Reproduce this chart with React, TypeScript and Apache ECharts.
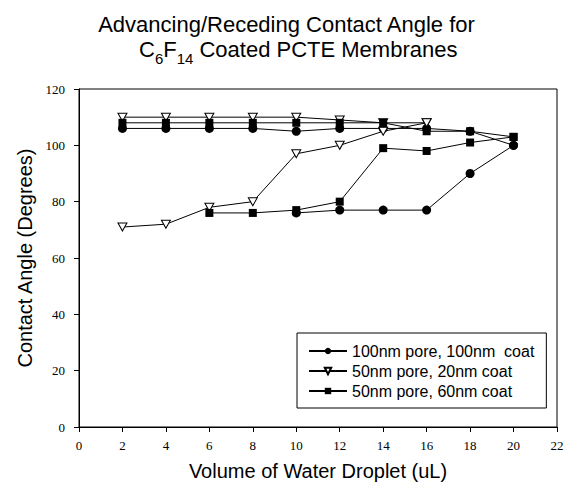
import React, { useEffect, useRef } from "react";
import * as echarts from "echarts";

// ---- Data ----
const xTicks = [0, 2, 4, 6, 8, 10, 12, 14, 16, 18, 20, 22];
const seriesNames = [
  "100nm pore, 100nm  coat",
  "50nm pore, 20nm coat",
  "50nm pore, 60nm coat",
];

// 100nm pore, 100nm coat
const circleAdvVolume = [2, 4, 6, 8, 10, 12, 14, 16, 18, 20];
const circleAdvAngle = [106, 106, 106, 106, 105, 106, 106, 106, 105, 100];
const circleRecVolume = [10, 12, 14, 16, 18, 20];
const circleRecAngle = [76, 77, 77, 77, 90, 100];

// 50nm pore, 20nm coat
const triAdvVolume = [2, 4, 6, 8, 10, 12, 14, 16];
const triAdvAngle = [110, 110, 110, 110, 110, 109, 108, 108];
const triRecVolume = [2, 4, 6, 8, 10, 12, 14, 16];
const triRecAngle = [71, 72, 78, 80, 97, 100, 105, 108];

// 50nm pore, 60nm coat
const sqAdvVolume = [2, 4, 6, 8, 10, 12, 14, 16, 18, 20];
const sqAdvAngle = [108, 108, 108, 108, 108, 108, 108, 105, 105, 103];
const sqRecVolume = [6, 8, 10, 12, 14, 16, 18, 20];
const sqRecAngle = [76, 76, 77, 80, 99, 98, 101, 103];

const pairs = (xs: number[], ys: number[]) => xs.map((x, i) => [x, ys[i]]);

const SANS = "'Liberation Sans', Arial, sans-serif";
const SERIF = "'Liberation Serif', 'Times New Roman', serif";

export default function App() {
  const ref = useRef<HTMLDivElement>(null);

  useEffect(() => {
    if (!ref.current) return;
    const chart = echarts.init(ref.current, null, { renderer: "svg" });

    const lineBase = {
      type: "line",
      lineStyle: { color: "#000", width: 1 },
      emphasis: { disabled: true },
      z: 2,
    };
    const circle = {
      ...lineBase,
      name: seriesNames[0],
      symbol: "circle",
      symbolSize: 9,
      itemStyle: { color: "#000" },
    };
    const tri = {
      ...lineBase,
      name: seriesNames[1],
      symbol: "triangle",
      symbolRotate: 180,
      symbolSize: [9, 8],
      itemStyle: { color: "#fff", borderColor: "#000", borderWidth: 1 },
    };
    const sq = {
      ...lineBase,
      name: seriesNames[2],
      symbol: "rect",
      symbolSize: 8,
      itemStyle: { color: "#000" },
    };

    chart.setOption({
      animation: false,
      backgroundColor: "#fff",
      title: [
        {
          text: "Advancing/Receding Contact Angle for",
          left: "center",
          top: 8,
          textStyle: {
            fontFamily: SANS,
            fontSize: 22,
            fontWeight: "normal",
            color: "#000",
          },
        },
        {
          text: "{n|C}{s|6}{n|F}{s|14}{n| Coated PCTE Membranes}",
          left: 134,
          top: 33,
          textStyle: {
            fontWeight: "normal",
            fontFamily: SANS,
            rich: {
              n: {
                fontFamily: SANS,
                fontSize: 22,
                fontWeight: "normal",
                color: "#000",
                verticalAlign: "top",
              },
              s: {
                fontFamily: SANS,
                fontSize: 15,
                fontWeight: "normal",
                color: "#000",
                verticalAlign: "top",
                padding: [13, 0, 0, 0],
              },
            },
          },
        },
      ],
      legend: {
        left: 297,
        top: 333,
        orient: "vertical",
        data: seriesNames,
        itemWidth: 38,
        itemHeight: 8,
        itemGap: 4,
        padding: [10, 12, 9, 11],
        borderColor: "#000",
        borderWidth: 1,
        borderRadius: 0,
        backgroundColor: "#fff",
        selectedMode: false,
        textStyle: {
          fontFamily: SANS,
          fontSize: 16,
          lineHeight: 16,
          color: "#000",
        },
      },
      grid: {
        left: 79,
        right: 16,
        top: 89,
        bottom: 63,
        show: true,
        borderColor: "#000",
        borderWidth: 1,
        backgroundColor: "transparent",
      },
      xAxis: {
        type: "value",
        min: 0,
        max: 22,
        interval: 2,
        name: "Volume of Water Droplet (uL)",
        nameLocation: "middle",
        nameGap: 34,
        nameTextStyle: { fontFamily: SANS, fontSize: 20, color: "#000" },
        axisLine: { show: true, lineStyle: { color: "#000", width: 1 } },
        axisTick: { show: true, inside: false, length: 5, lineStyle: { color: "#000" } },
        axisLabel: {
          fontFamily: SERIF,
          fontSize: 13,
          color: "#000",
          margin: 12,
          formatter: (v: number) => (xTicks.includes(v) ? String(v) : ""),
        },
        splitLine: { show: false },
      },
      yAxis: {
        type: "value",
        min: 0,
        max: 120,
        interval: 20,
        name: "Contact Angle (Degrees)",
        nameLocation: "middle",
        nameGap: 43,
        nameTextStyle: { fontFamily: SANS, fontSize: 20, color: "#000" },
        axisLine: { show: true, lineStyle: { color: "#000", width: 1 } },
        axisTick: { show: true, inside: false, length: 5, lineStyle: { color: "#000" } },
        axisLabel: { fontFamily: SERIF, fontSize: 13, color: "#000", margin: 14 },
        splitLine: { show: false },
      },
      series: [
        { ...circle, data: pairs(circleAdvVolume, circleAdvAngle) },
        { ...circle, data: pairs(circleRecVolume, circleRecAngle) },
        { ...tri, data: pairs(triAdvVolume, triAdvAngle) },
        { ...tri, data: pairs(triRecVolume, triRecAngle) },
        { ...sq, data: pairs(sqAdvVolume, sqAdvAngle) },
        { ...sq, data: pairs(sqRecVolume, sqRecAngle) },
      ],
    });

    return () => chart.dispose();
  }, []);

  return (
    <div
      ref={ref}
      style={{ position: "fixed", left: 0, top: 0, width: 573, height: 490, background: "#fff" }}
    />
  );
}
